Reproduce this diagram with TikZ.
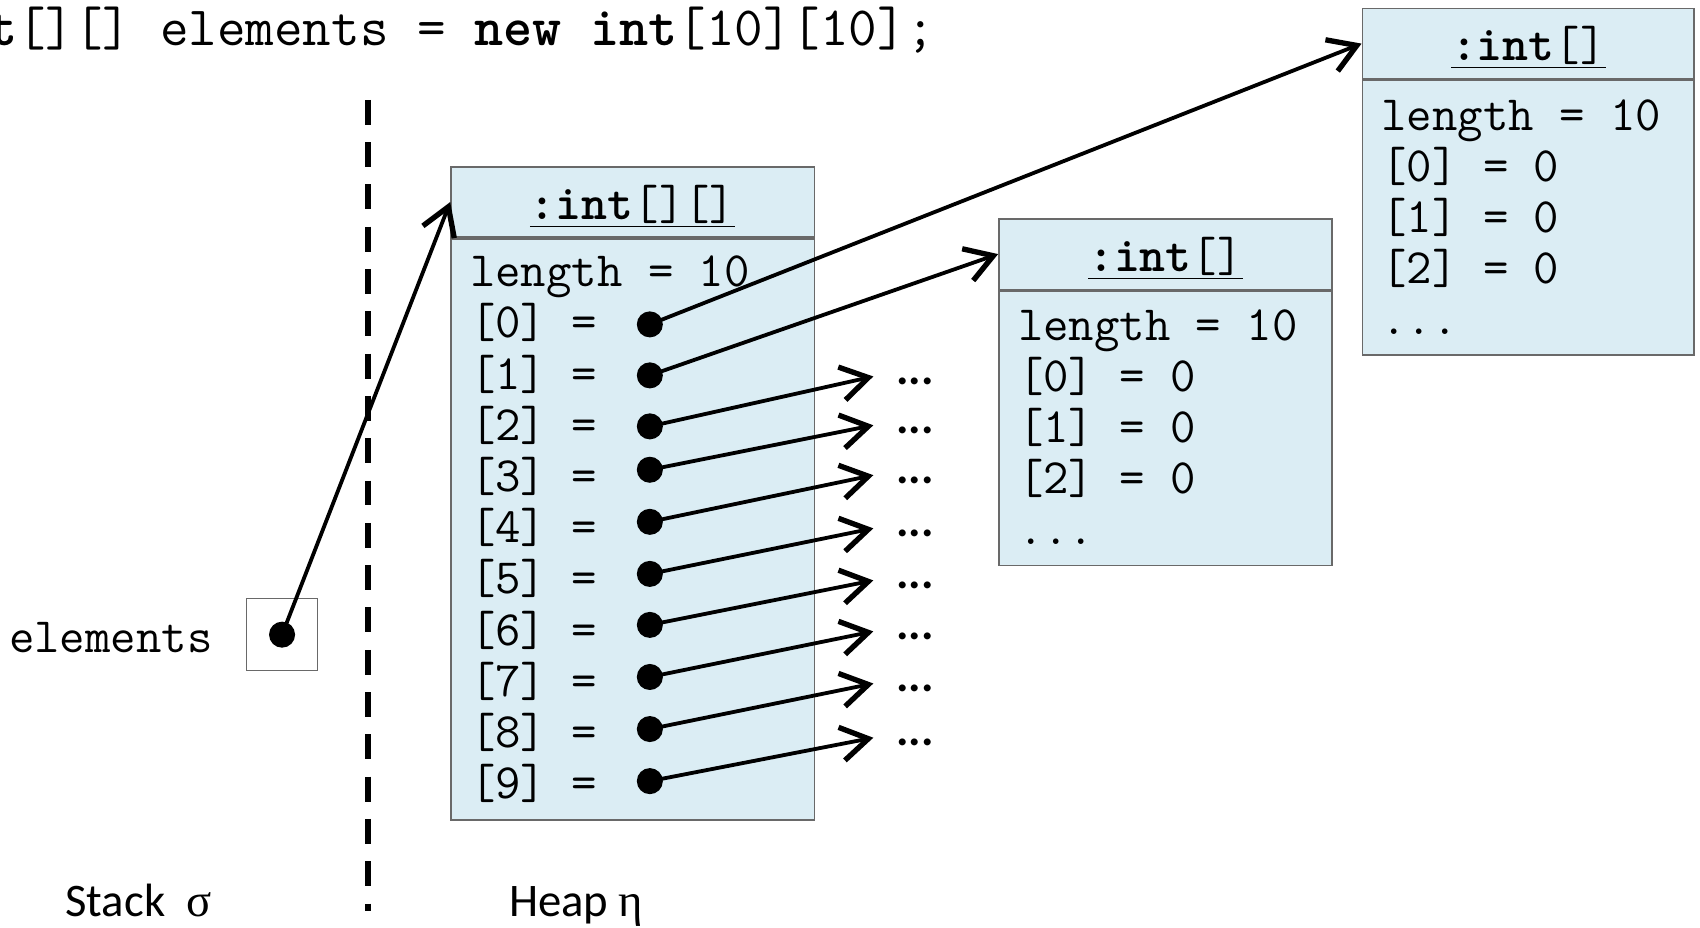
\documentclass[tikz,border=0pt]{standalone}
\usepackage{fontspec}
\setmainfont{Carlito}
\newfontfamily\greekfont{Liberation Serif}
\usetikzlibrary{arrows.meta}

\definecolor{boxfill}{RGB}{219,237,244}
\definecolor{boxline}{RGB}{105,105,105}

\tikzset{
  objhead/.style={draw=boxline,fill=boxfill,line width=0.8pt,minimum height=1.3cm,inner sep=0pt,
    text height=0.7cm,text depth=0.06cm,font=\ttfamily\fontsize{25.9}{30}\selectfont},
  objbody/.style={draw=boxline,fill=boxfill,line width=0.8pt,inner sep=0pt},
  field/.style={anchor=base west,inner sep=0pt,font=\ttfamily\fontsize{25.9}{30}\selectfont},
  ref/.style={circle,fill=black,inner sep=0pt,minimum size=0.48cm},
  pointer/.style={line width=2pt,-{Straight Barb[length=0.5cm,width=0.62cm,line width=0.8pt 1]}},
  more/.style={anchor=west,inner xsep=0.42cm,inner ysep=0pt,text height=0.3cm,text depth=0pt,
    font=\bfseries\fontsize{24.5}{30}\selectfont},
}

\begin{document}
\begin{tikzpicture}[x=0.02cm,y=-0.02cm]
  \useasboundingbox (0,0) rectangle (1567,854.5);

  % the statement
  \node[anchor=base west,inner sep=0pt,font=\ttfamily\fontsize{29.1}{34}\selectfont] (code) at (-65,42)
    {\textbf{int}[][] elements = \textbf{new} \textbf{int}[10][10];};

  % stack | heap
  \draw[line width=3.2pt,dash pattern=on 0.46cm off 0.32cm] (339,92) -- (339,840);
  \node[anchor=base west,inner sep=0pt,font=\fontsize{24.5}{30}\selectfont] (stack) at (60,845)
    {Stack\ \ {\greekfont σ}};
  \node[anchor=base west,inner sep=0pt,font=\fontsize{24.5}{30}\selectfont] (heap) at (469,845)
    {Heap {\greekfont η}};

  % local variable
  \node[field] (elname) at (8,601) {elements};
  \node[draw=boxline,line width=0.6pt,minimum size=1.32cm,inner sep=0pt] (var) at (260,585) {};
  \node[ref] (elem) at (var.center) {};

  % outer array
  \node[objhead,minimum width=6.7cm,anchor=north west] (outer) at (415,153) {\underline{\textbf{:int}[][]}};
  \node[objbody,minimum width=6.7cm,minimum height=10.72cm,anchor=north] (outerbody) at (outer.south) {};
  \node[field] (outerlen) at (433,264) {length = 10};
  \foreach \i in {0,...,9}
    \node[field] (f\i) at (433,{311.5+47.2*\i}) {[\i] =};
  \foreach \i/\y in {0/299,1/346,2/393,3/433,4/481,5/529,6/576,7/624,8/672,9/720}
    \node[ref] (p\i) at (599,\y) {};

  % inner array [1]
  \node[objhead,minimum width=6.14cm,anchor=north west] (rowa) at (920,201) {\underline{\textbf{:int}[]}};
  \node[objbody,minimum width=6.14cm,minimum height=5.06cm,anchor=north] (rowabody) at (rowa.south) {};
  \node[field] (rowalen) at (938,314) {length = 10};
  \foreach \i in {0,1,2}
    \node[field] (a\i) at (938,{361+47*\i}) {[\i] = 0};
  \node[field] (arest) at (938,502) {...};

  % inner array [0]
  \node[objhead,minimum width=6.12cm,anchor=north west] (rowb) at (1255,7) {\underline{\textbf{:int}[]}};
  \node[objbody,minimum width=6.12cm,minimum height=5.06cm,anchor=north] (rowbbody) at (rowb.south) {};
  \node[field] (rowblen) at (1273,120) {length = 10};
  \foreach \i in {0,1,2}
    \node[field] (b\i) at (1273,{167+47*\i}) {[\i] = 0};
  \node[field] (brest) at (1273,308) {...};

  % references
  \draw[pointer] (elem.center) -- (outer.west);
  \draw[pointer] (p0.center) -- (rowb.west);
  \draw[pointer] (p1.center) -- (rowa.west);
  \foreach \i/\y in {2/354.5,3/399.5,4/445.5,5/494.5,6/542.5,7/589.5,8/637.5,9/687.5} {
    \node[more] (m\i) at (805,\y-7.5) {...};
    \draw[pointer] (p\i.center) -- (m\i.west);
  }
\end{tikzpicture}
\end{document}
